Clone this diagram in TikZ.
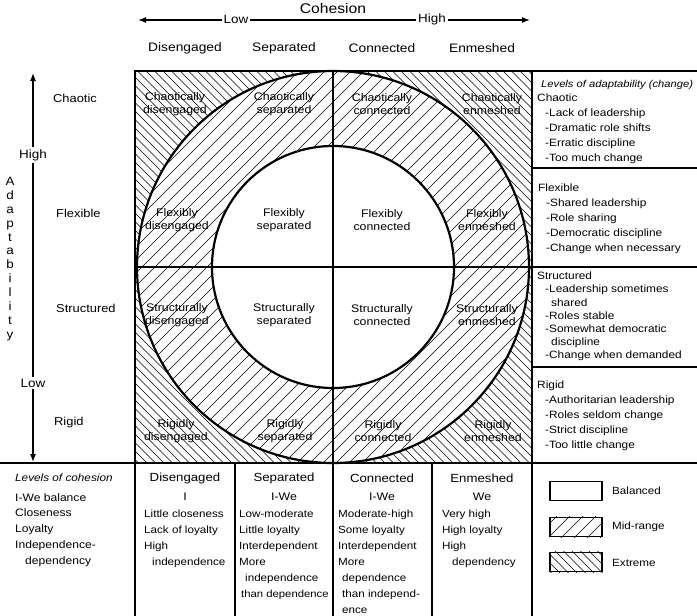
\documentclass[tikz,border=0pt]{standalone}
\usepackage{fontspec}
\setmainfont{Liberation Sans}[FakeStretch=1.12]
\usetikzlibrary{arrows.meta}
\begin{document}
\begin{tikzpicture}[x=1pt,y=-1pt,
  hdr/.style={font=\fontsize{12.3}{14}\selectfont, inner sep=0pt},
  rowlab/.style={font=\fontsize{11.5}{14}\selectfont, inner sep=0pt, anchor=west},
  cell/.style={font=\fontsize{11}{13.2}\selectfont, align=center, inner sep=0pt},
  rtxt/.style={font=\fontsize{10.6}{15}\selectfont, align=left, inner sep=0pt, anchor=north west},
  btxt/.style={font=\fontsize{10.4}{15.9}\selectfont, align=left, inner sep=0pt, anchor=north west},
  axlab/.style={font=\fontsize{12}{14}\selectfont, fill=white, inner sep=2pt},
  axis/.style={line width=1.1pt, {Latex[length=8pt,width=6pt]}-{Latex[length=8pt,width=6pt]}},
  frame/.style={line width=2.2pt},
  sep/.style={line width=1.8pt},
  hatchM/.style={line width=0.6pt},
  hatchE/.style={line width=0.45pt},
  legbox/.style={draw, line width=1.8pt, minimum width=52pt, minimum height=19pt, inner sep=0pt},
]
\useasboundingbox (0,0) rectangle (697,616);

% extreme hatching (whole square)
\begin{scope}
  \clip (135,71) rectangle (532,463);
  \foreach \xx in {-262,-253.5,...,540} \draw[hatchE] (\xx,71) -- ++(392,392);
\end{scope}
\fill[white] (333,267) circle[radius=196];
% mid-range hatching (outer circle)
\begin{scope}
  \clip (333,267) circle[radius=196];
  \foreach \xx in {-262,-249,...,540} \draw[hatchM] (\xx,463) -- ++(392,-392);
\end{scope}
\fill[white] (333,267) circle[radius=121];

% cross lines
\draw[line width=1.3pt] (333,71) -- (333,463);
\draw[line width=1.3pt] (135,267) -- (697,267);
% circles
\draw[line width=2.2pt] (333,267) circle[radius=196];
\draw[line width=2.2pt] (333,267) circle[radius=121];
% frames
\draw[frame] (135,71) rectangle (532,463);
\draw[frame] (532,71) -- (697,71);
\draw[sep] (532,168) -- (697,168);
\draw[sep] (532,367) -- (697,367);
\draw[frame] (0,463) -- (697,463);
\foreach \xx in {135,235,333,432,532} \draw[sep] (\xx,463) -- (\xx,616);

% top axis
\node[hdr, font=\fontsize{14}{16}\selectfont] (coh) at (333,8) {Cohesion};
\coordinate (cohL) at (138,20);
\coordinate (cohR) at (530,20);
\draw[axis] (cohL) -- (cohR);
\node[axlab] (cohLow) at (236,19.5) {Low};
\node[axlab] (cohHigh) at (432,19.5) {High};

\node[hdr] (hD) at (185,48) {Disengaged};
\node[hdr] (hS) at (284,48) {Separated};
\node[hdr] (hC) at (382,48) {Connected};
\node[hdr] (hE) at (482,48) {Enmeshed};

% left axis
\coordinate (adT) at (33,73);
\coordinate (adB) at (33,462);
\draw[axis] (adB) -- (adT);
\node[axlab] (adHigh) at (33,155) {High};
\node[axlab] (adLow) at (33,383) {Low};
\node[font=\fontsize{12}{13.9}\selectfont, align=center, inner sep=0pt] (adapt) at (10,259) {A\\d\\a\\p\\t\\a\\b\\i\\l\\i\\t\\y};

\node[rowlab] (rC) at (53,98) {Chaotic};
\node[rowlab] (rF) at (56,213) {Flexible};
\node[rowlab] (rS) at (56,308) {Structured};
\node[rowlab] (rR) at (54,423) {Rigid};

% cells
\node[cell] (c11) at (175,104) {Chaotically\\disengaged};
\node[cell] (c12) at (284,104) {Chaotically\\separated};
\node[cell] (c13) at (382,104) {Chaotically\\connected};
\node[cell] (c14) at (492,104) {Chaotically\\enmeshed};
\node[cell] (c21) at (177,220) {Flexibly\\disengaged};
\node[cell] (c22) at (284,220) {Flexibly\\separated};
\node[cell] (c23) at (382,220) {Flexibly\\connected};
\node[cell] (c24) at (487,220) {Flexibly\\enmeshed};
\node[cell] (c31) at (177,315) {Structurally\\disengaged};
\node[cell] (c32) at (284,315) {Structurally\\separated};
\node[cell] (c33) at (382,315) {Structurally\\connected};
\node[cell] (c34) at (487,315) {Structurally\\enmeshed};
\node[cell] (c41) at (176,431) {Rigidly\\disengaged};
\node[cell] (c42) at (285,431) {Rigidly\\separated};
\node[cell] (c43) at (383,431) {Rigidly\\connected};
\node[cell] (c44) at (493,431) {Rigidly\\enmeshed};

% right column
\node[rtxt, font=\fontsize{10}{15}\selectfont\itshape] (lvA) at (541,80) {Levels of adaptability (change)};
\node[rtxt] (rtC) at (537,94) {Chaotic\\
\hspace{8pt}-Lack of leadership\\
\hspace{8pt}-Dramatic role shifts\\
\hspace{8pt}-Erratic discipline\\
\hspace{8pt}-Too much change};
\node[rtxt] (rtF) at (538,184) {Flexible\\
\hspace{8pt}-Shared leadership\\
\hspace{8pt}-Role sharing\\
\hspace{8pt}-Democratic discipline\\
\hspace{8pt}-Change when necessary};
\node[rtxt, font=\fontsize{10.6}{13.1}\selectfont] (rtS) at (537,272) {Structured\\
\hspace{8pt}-Leadership sometimes\\
\hspace{14pt}shared\\
\hspace{8pt}-Roles stable\\
\hspace{8pt}-Somewhat democratic\\
\hspace{14pt}discipline\\
\hspace{8pt}-Change when demanded};
\node[rtxt] (rtR) at (537,381) {Rigid\\
\hspace{8pt}-Authoritarian leadership\\
\hspace{8pt}-Roles seldom change\\
\hspace{8pt}-Strict discipline\\
\hspace{8pt}-Too little change};

% bottom table
\node[btxt, font=\fontsize{10.5}{15.9}\selectfont\itshape] (lvC) at (15,474) {Levels of cohesion};
\node[btxt, font=\fontsize{10.8}{15.9}\selectfont] (bL) at (15,493) {I-We balance\\Closeness\\Loyalty\\Independence-\\\hspace{10pt}dependency};

\node[hdr, font=\fontsize{11.8}{14}\selectfont] (bhD) at (185,478) {Disengaged};
\node[hdr, font=\fontsize{11.8}{14}\selectfont] (bhS) at (284,478) {Separated};
\node[hdr, font=\fontsize{11.8}{14}\selectfont] (bhC) at (382,478) {Connected};
\node[hdr, font=\fontsize{11.8}{14}\selectfont] (bhE) at (482,478) {Enmeshed};
\node[cell] (biD) at (185,497) {I};
\node[cell] (biS) at (284,497) {I-We};
\node[cell] (biC) at (382,497) {I-We};
\node[cell] (biE) at (482,497) {We};
\node[btxt] (btD) at (144,510) {Little closeness\\Lack of loyalty\\High\\\hspace{8pt}independence};
\node[btxt] (btS) at (239,510) {Low-moderate\\Little loyalty\\Interdependent\\More\\\hspace{6pt}independence\\\hspace{2pt}{\fontsize{10.1}{15.9}\selectfont than dependence}};
\node[btxt] (btC) at (338,510) {Moderate-high\\Some loyalty\\Interdependent\\More\\\hspace{4pt}dependence\\\hspace{4pt}than independ-\\\hspace{4pt}ence};
\node[btxt] (btE) at (442,510) {Very high\\High loyalty\\High\\\hspace{10pt}dependency};

% legend
\node[legbox] (lgB) at (576,491) {};
\node[legbox] (lgM) at (576,527) {};
\node[legbox] (lgE) at (576,562) {};
\begin{scope}
  \clip (lgM.south west) rectangle (lgM.north east);
  \foreach \xx in {520,533,...,630} \draw[hatchM] (\xx,540) -- ++(26,-26);
\end{scope}
\begin{scope}
  \clip (lgE.south west) rectangle (lgE.north east);
  \foreach \xx in {520,528.5,...,630} \draw[hatchE] (\xx,550) -- ++(24,24);
\end{scope}
\node[btxt, anchor=west] (lgBt) at (612,491) {Balanced};
\node[btxt, anchor=west] (lgMt) at (612,527) {Mid-range};
\node[btxt, anchor=west] (lgEt) at (612,563) {Extreme};
\end{tikzpicture}
\end{document}
